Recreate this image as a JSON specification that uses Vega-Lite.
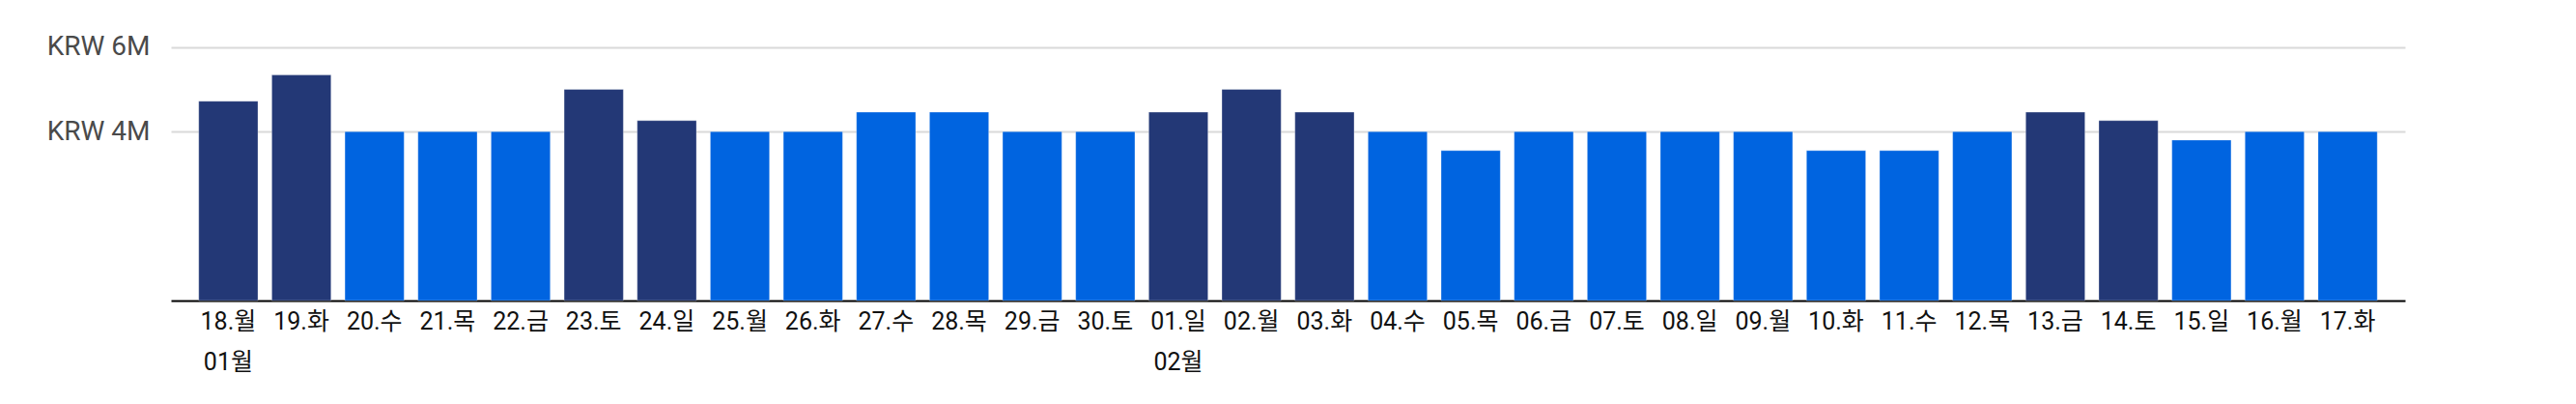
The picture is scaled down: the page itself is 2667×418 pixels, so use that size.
{
  "$schema": "https://vega.github.io/schema/vega-lite/v6.json",
  "autosize": "none",
  "width": 2313,
  "height": 306,
  "padding": {"left": 177, "top": 5, "right": 177, "bottom": 107},
  "data": {
    "values": [
      {"day": "18.월", "month": "01월", "price": 4720000, "tier": "peak"},
      {"day": "19.화", "month": "01월", "price": 5340000, "tier": "peak"},
      {"day": "20.수", "month": "01월", "price": 4000000, "tier": "regular"},
      {"day": "21.목", "month": "01월", "price": 4000000, "tier": "regular"},
      {"day": "22.금", "month": "01월", "price": 4000000, "tier": "regular"},
      {"day": "23.토", "month": "01월", "price": 5000000, "tier": "peak"},
      {"day": "24.일", "month": "01월", "price": 4260000, "tier": "peak"},
      {"day": "25.월", "month": "01월", "price": 4000000, "tier": "regular"},
      {"day": "26.화", "month": "01월", "price": 4000000, "tier": "regular"},
      {"day": "27.수", "month": "01월", "price": 4460000, "tier": "regular"},
      {"day": "28.목", "month": "01월", "price": 4460000, "tier": "regular"},
      {"day": "29.금", "month": "01월", "price": 4000000, "tier": "regular"},
      {"day": "30.토", "month": "01월", "price": 4000000, "tier": "regular"},
      {"day": "01.일", "month": "02월", "price": 4460000, "tier": "peak"},
      {"day": "02.월", "month": "02월", "price": 5000000, "tier": "peak"},
      {"day": "03.화", "month": "02월", "price": 4460000, "tier": "peak"},
      {"day": "04.수", "month": "02월", "price": 4000000, "tier": "regular"},
      {"day": "05.목", "month": "02월", "price": 3550000, "tier": "regular"},
      {"day": "06.금", "month": "02월", "price": 4000000, "tier": "regular"},
      {"day": "07.토", "month": "02월", "price": 4000000, "tier": "regular"},
      {"day": "08.일", "month": "02월", "price": 4000000, "tier": "regular"},
      {"day": "09.월", "month": "02월", "price": 4000000, "tier": "regular"},
      {"day": "10.화", "month": "02월", "price": 3550000, "tier": "regular"},
      {"day": "11.수", "month": "02월", "price": 3550000, "tier": "regular"},
      {"day": "12.목", "month": "02월", "price": 4000000, "tier": "regular"},
      {"day": "13.금", "month": "02월", "price": 4460000, "tier": "peak"},
      {"day": "14.토", "month": "02월", "price": 4260000, "tier": "peak"},
      {"day": "15.일", "month": "02월", "price": 3800000, "tier": "regular"},
      {"day": "16.월", "month": "02월", "price": 4000000, "tier": "regular"},
      {"day": "17.화", "month": "02월", "price": 4000000, "tier": "regular"}
    ]
  },
  "mark": {"type": "bar", "stroke": "#ffffff", "strokeOpacity": 0.3, "strokeWidth": 1},
  "encoding": {
    "x": {
      "field": "day",
      "type": "nominal",
      "sort": null,
      "scale": {"paddingInner": 0.19, "paddingOuter": 0.38},
      "axis": {
        "title": null,
        "labelAngle": 0,
        "ticks": false,
        "domainColor": "#000000",
        "domainWidth": 2,
        "labelPadding": 9,
        "labelFontSize": 25,
        "labelColor": "#111111",
        "labelLineHeight": 42,
        "labelExpr": "datum.value == '18.월' ? [datum.value, '01월'] : datum.value == '01.일' ? [datum.value, '02월'] : datum.value"
      }
    },
    "y": {
      "field": "price",
      "type": "quantitative",
      "scale": {"domain": [0, 7000000]},
      "axis": {
        "title": null,
        "values": [4000000, 6000000],
        "domain": false,
        "ticks": false,
        "gridColor": "#d9d9d9",
        "gridWidth": 2,
        "labelPadding": 22,
        "labelFontSize": 28,
        "labelColor": "#4a4a4a",
        "labelExpr": "'KRW ' + (datum.value / 1000000) + 'M'"
      }
    },
    "color": {
      "field": "tier",
      "type": "nominal",
      "scale": {"domain": ["peak", "regular"], "range": ["#233876", "#0064e0"]},
      "legend": null
    }
  },
  "config": {
    "background": "white",
    "view": {"stroke": null},
    "font": "Roboto, Noto Sans CJK KR, sans-serif",
    "axis": {"zindex": 1, "grid": true},
    "axisX": {"grid": false}
  }
}
